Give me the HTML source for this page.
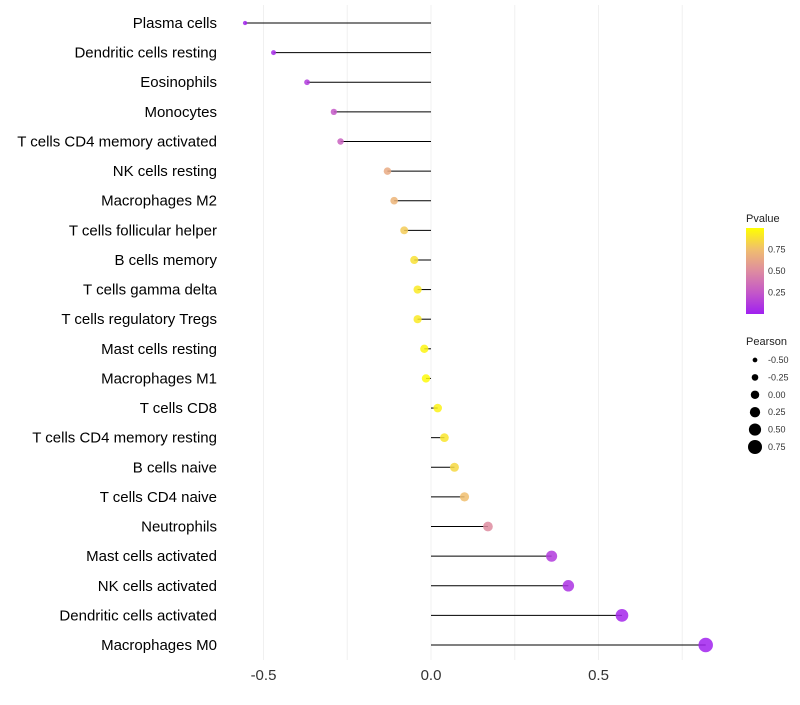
<!DOCTYPE html>
<html><head><meta charset="utf-8"><style>
body{margin:0;background:#fff;font-family:"Liberation Sans",sans-serif}
</style></head><body>
<svg id="c" width="800" height="700"></svg>
<script>
const categories=["Plasma cells","Dendritic cells resting","Eosinophils","Monocytes","T cells CD4 memory activated","NK cells resting","Macrophages M2","T cells follicular helper","B cells memory","T cells gamma delta","T cells regulatory  Tregs ","Mast cells resting","Macrophages M1","T cells CD8","T cells CD4 memory resting","B cells naive","T cells CD4 naive","Neutrophils","Mast cells activated","NK cells activated","Dendritic cells activated","Macrophages M0"];
const pearson=[-0.555,-0.47,-0.37,-0.29,-0.27,-0.13,-0.11,-0.08,-0.05,-0.04,-0.04,-0.02,-0.015,0.02,0.04,0.07,0.1,0.17,0.36,0.41,0.57,0.82];
const pvalue=[0.02,0.05,0.12,0.25,0.3,0.65,0.7,0.8,0.88,0.92,0.92,0.96,0.98,0.95,0.9,0.85,0.75,0.5,0.12,0.08,0.03,0.01];
const xTicks=[-0.5,0,0.5];
const xTickLabels=["-0.5","0.0","0.5"];
const cbTicks=[0.25,0.5,0.75];
const sizeLegend=[-0.5,-0.25,0,0.25,0.5,0.75];
const NS="http://www.w3.org/2000/svg";
const svg=document.getElementById('c');
function el(t,a,p){const e=document.createElementNS(NS,t);for(const k in a)e.setAttribute(k,a[k]);(p||svg).appendChild(e);return e;}
const x=v=>431+v*335;
const y=i=>23+i*(622/21);
const r=v=>2.2+(v+0.55)*3.7;
const stops=[[160,32,240],[196,88,200],[222,140,160],[240,190,110],[255,255,0]];
function col(p){p=Math.max(0,Math.min(1,p));const s=p*4,i=Math.min(3,Math.floor(s)),f=s-i;const a=stops[i],b=stops[i+1];
return `rgb(${a.map((c,k)=>Math.round(c+(b[k]-c)*f)).join(',')})`;}
[-0.5,-0.25,0,0.25,0.5,0.75].forEach(v=>{const g=el('line',{x1:x(v),x2:x(v),y1:5,y2:660,stroke:'#f0f0f0','stroke-width':1});
});
xTicks.forEach((v,i)=>{const t=el('text',{x:x(v),y:680,'text-anchor':'middle','font-size':15,fill:'#333'});t.textContent=xTickLabels[i];
});
categories.forEach((c,i)=>{
const t=el('text',{x:217,y:y(i)+5,'text-anchor':'end','font-size':15,fill:'#000'});t.textContent=c;

const l=el('line',{x1:x(0),x2:x(pearson[i]),y1:y(i),y2:y(i),stroke:'#000','stroke-width':1});

const d=el('circle',{cx:x(pearson[i]),cy:y(i),r:r(pearson[i]),fill:col(pvalue[i]),'fill-opacity':0.85});

});
let tt=el('text',{x:746,y:222,'font-size':11,fill:'#222'});tt.textContent='Pvalue';

const defs=el('defs',{});const gr=el('linearGradient',{id:'g',x1:0,y1:1,x2:0,y2:0},defs);
stops.forEach((s,i)=>el('stop',{offset:i/4,'stop-color':`rgb(${s.join(',')})`},gr));
const cb=el('rect',{x:746,y:228,width:18,height:86,fill:'url(#g)'});

const cy=p=>314-p*86;
cbTicks.forEach(p=>{const t=el('text',{x:768,y:cy(p)+3,'font-size':9,fill:'#333'});t.textContent=p.toFixed(2);
});
tt=el('text',{x:746,y:345,'font-size':11,fill:'#222'});tt.textContent='Pearson';

sizeLegend.forEach((v,i)=>{const yy=360+i*17.4;
const c=el('circle',{cx:755,cy:yy,r:r(v),fill:'#000'});
const t=el('text',{x:768,y:yy+3,'font-size':9,fill:'#333'});t.textContent=v.toFixed(2);
});
</script></body></html>
